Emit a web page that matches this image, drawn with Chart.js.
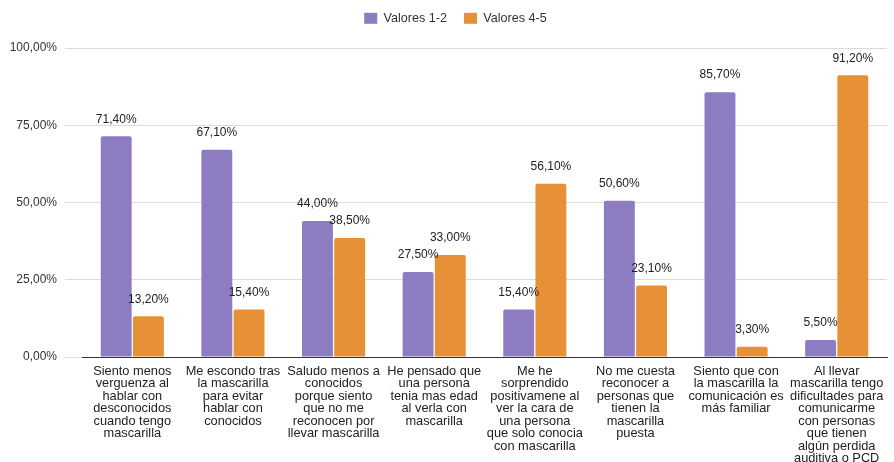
<!DOCTYPE html>
<html><head><meta charset="utf-8">
<script src="https://cdn.jsdelivr.net/npm/chart.js@4"></script>
<style>html,body{margin:0;padding:0;background:#fff}#wrap{width:894px;height:462px}</style>
</head><body><div id="wrap"><canvas id="c" width="894" height="462"></canvas></div>
<script>
const categories = [
  ["Siento menos","verguenza al","hablar con","desconocidos","cuando tengo","mascarilla"],
  ["Me escondo tras","la mascarilla","para evitar","hablar con","conocidos"],
  ["Saludo menos a","conocidos","porque siento","que no me","reconocen por","llevar mascarilla"],
  ["He pensado que","una persona","tenia mas edad","al verla con","mascarilla"],
  ["Me he","sorprendido","positivamene al","ver la cara de","una persona","que solo conocia","con mascarilla"],
  ["No me cuesta","reconocer a","personas que","tienen la","mascarilla","puesta"],
  ["Siento que con","la mascarilla la","comunicación es","más familiar"],
  ["Al llevar","mascarilla tengo","dificultades para","comunicarme","con personas","que tienen","algún perdida","auditiva o PCD"]
];
const valores12 = [71.4, 67.1, 44.0, 27.5, 15.4, 50.6, 85.7, 5.5];
const valores45 = [13.2, 15.4, 38.5, 33.0, 56.1, 23.1, 3.3, 91.2];
const yTicks = [0, 25, 50, 75, 100];

const fmt = v => v.toFixed(2).replace('.', ',') + '%';
const FONT = "'Liberation Sans', Arial, sans-serif";

const labelPlugin = {
  id: 'valueLabels',
  afterInit(chart) {
    const lg = chart.legend;
    if (lg) {
      const origFit = lg.fit;
      lg.fit = function () { origFit.call(this); this.height = 53; };
      const origDraw = lg.draw;
      lg.draw = function () {
        const c = this.ctx;
        c.save();
        c.translate(12, 0);
        origDraw.call(this);
        c.restore();
      };
    }
  },
  afterDatasetsDraw(chart) {
    const ctx = chart.ctx;
    ctx.save();
    ctx.font = '12px ' + FONT;
    ctx.fillStyle = '#222';
    ctx.textAlign = 'center';
    ctx.textBaseline = 'middle';
    chart.data.datasets.forEach((ds, i) => {
      chart.getDatasetMeta(i).data.forEach((bar, j) => {
        ctx.fillText(fmt(ds.data[j]), bar.x, bar.y - 17);
      });
    });
    ctx.restore();
  }
};

new Chart(document.getElementById('c'), {
  type: 'bar',
  data: {
    labels: categories,
    datasets: [
      { label: 'Valores 1-2', data: valores12, backgroundColor: '#8e7cc3', borderRadius: 2 },
      { label: 'Valores 4-5', data: valores45, backgroundColor: '#e69138', borderRadius: 2 }
    ]
  },
  options: {
    responsive: false,
    animation: false,
    layout: { padding: { top: -5, right: 7, left: 0, bottom: 0 } },
    categoryPercentage: 0.64,
    barPercentage: 0.96,
    plugins: {
      legend: {
        position: 'top',
        labels: { font: { family: FONT, size: 12.6 }, color: '#333', boxWidth: 13, boxHeight: 11, padding: 17 }
      },
      tooltip: { enabled: false }
    },
    scales: {
      x: {
        grid: { display: false },
        border: { display: true, color: '#333', width: 1 },
        ticks: { font: { family: FONT, size: 12.8, lineHeight: 0.977 }, color: '#222', maxRotation: 0, autoSkip: false, padding: 0 },
        afterFit(s) { s.height = 105; }
      },
      y: {
        min: 0, max: 100,
        afterBuildTicks(s) { s.ticks = yTicks.map(v => ({ value: v })); },
        grid: { color: '#dcdcdc', tickLength: 17, lineWidth: 1 },
        border: { display: false },
        ticks: { font: { family: FONT, size: 12 }, color: '#333', padding: 8, callback: v => fmt(v) },
        afterFit(s) { s.width = 82; }
      }
    }
  },
  plugins: [labelPlugin]
});
</script></body></html>
